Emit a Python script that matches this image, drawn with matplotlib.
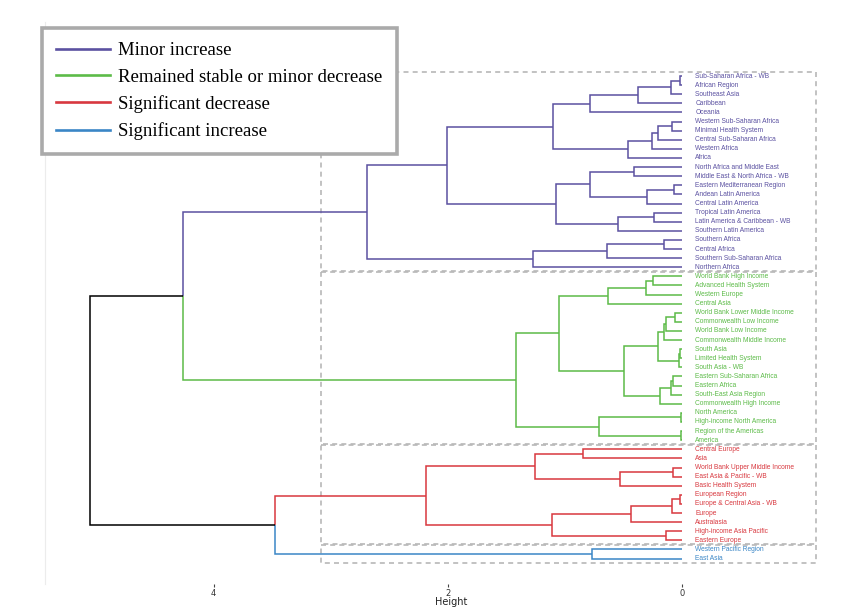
import matplotlib
matplotlib.use("Agg")
import matplotlib.pyplot as plt
from matplotlib.lines import Line2D

# ---------------- data ----------------
leaf_labels = [
    "Sub-Saharan Africa - WB", "African Region", "Southeast Asia", "Caribbean", "Oceania",
    "Western Sub-Saharan Africa", "Minimal Health System", "Central Sub-Saharan Africa",
    "Western Africa", "Africa", "North Africa and Middle East", "Middle East & North Africa - WB",
    "Eastern Mediterranean Region", "Andean Latin America", "Central Latin America",
    "Tropical Latin America", "Latin America & Caribbean - WB", "Southern Latin America",
    "Southern Africa", "Central Africa", "Southern Sub-Saharan Africa", "Northern Africa",
    "World Bank High Income", "Advanced Health System", "Western Europe", "Central Asia",
    "World Bank Lower Middle Income", "Commonwealth Low Income", "World Bank Low Income",
    "Commonwealth Middle Income", "South Asia", "Limited Health System", "South Asia - WB",
    "Eastern Sub-Saharan Africa", "Eastern Africa", "South-East Asia Region",
    "Commonwealth High Income", "North America", "High-income North America",
    "Region of the Americas", "America",
    "Central Europe", "Asia", "World Bank Upper Middle Income", "East Asia & Pacific - WB",
    "Basic Health System", "European Region", "Europe & Central Asia - WB", "Europe",
    "Australasia", "High-income Asia Pacific", "Eastern Europe",
    "Western Pacific Region", "East Asia",
]

cluster_names = ["Minor increase", "Remained stable or minor decrease",
                 "Significant decrease", "Significant increase"]
cluster_colors = ["#5b51a1", "#5cbb48", "#d8383f", "#3a86c6"]
cluster_sizes = [22, 19, 11, 2]

# merges: (left, right, height); ints are leaf indices
purple_A = ((((0, 1, 0.02), 2, 0.10), 3, 0.38), 4, 0.79)
purple_B = ((((5, 6, 0.09), 7, 0.21), 8, 0.26), 9, 0.46)
purple_C = ((10, 11, 0.41), ((12, 13, 0.07), 14, 0.30), 0.79)
purple_D = ((15, 16, 0.24), 17, 0.55)
purple_E = (((18, 19, 0.16), 20, 0.64), 21, 1.27)
purple = (((purple_A, purple_B, 1.10), (purple_C, purple_D, 1.08), 2.01), purple_E, 2.69)

green_A = (((22, 23, 0.25), 24, 0.31), 25, 0.63)
green_B = ((((26, 27, 0.06), 28, 0.14), 29, 0.16), ((30, 31, 0.02), 32, 0.03), 0.21)
green_C = (((33, 34, 0.08), 35, 0.10), 36, 0.19)
green_D = ((37, 38, 0.01), (39, 40, 0.01), 0.71)
green = ((green_A, (green_B, green_C, 0.50), 1.05), green_D, 1.42)

red_A = ((41, 42, 0.85), ((43, 44, 0.08), 45, 0.53), 1.26)
red_B = ((((46, 47, 0.02), 48, 0.09), 49, 0.44), (50, 51, 0.14), 1.11)
red = (red_A, red_B, 2.19)

blue = (52, 53, 0.77)

tree = ((purple, green, 4.26), (red, blue, 3.48), 5.06)

box_left_height = 3.08
x_ticks = [4, 2, 0]

# ---------------- figure ----------------
fig = plt.figure(figsize=(8.52, 6.14), dpi=100)
ax = fig.add_axes([0.0528, 0.0488, 0.9212, 0.9154])

leaf_cluster = []
for k, n in enumerate(cluster_sizes):
    leaf_cluster += [k] * n

LW = 1.1


def layout(node):
    if isinstance(node, int):
        return float(node), 0.0, {leaf_cluster[node]}
    left, right, h = node
    y_l, h_l, c_l = layout(left)
    y_r, h_r, c_r = layout(right)
    y = (y_l + y_r) / 2.0
    for yc, hc, cc in ((y_l, h_l, c_l), (y_r, h_r, c_r)):
        col = cluster_colors[next(iter(cc))] if len(cc) == 1 else "black"
        ax.plot([h, h, hc], [y, yc, yc], color=col, lw=LW,
                solid_joinstyle="miter", solid_capstyle="butt", zorder=3)
    return y, h, c_l | c_r


layout(tree)

# leaf labels
for i, lab in enumerate(leaf_labels):
    ax.text(-0.11, i, lab, fontsize=4.8, color=cluster_colors[leaf_cluster[i]],
            va="center", ha="left", family="Liberation Sans", zorder=4)

# dashed cluster boxes
start = 0
box_right = -1.14
for n in cluster_sizes:
    top = start - 0.45
    bot = start + n - 1 + 0.45
    ax.plot([box_left_height, box_right, box_right, box_left_height, box_left_height],
            [top, top, bot, bot, top], color="#b8b8b8", lw=1.2,
            dashes=(3, 2.5), zorder=2)
    start += n

ax.set_ylim(55.8, -5.94)
ax.set_xlim(5.44, -1.26)
ax.set_yticks([])
ax.set_xticks(x_ticks)
ax.set_xticklabels([str(t) for t in x_ticks])
ax.tick_params(axis="x", length=2.5, width=0.8, color="#444444", labelsize=6,
               labelcolor="#333333", pad=0.8)
for s in ["top", "right", "bottom"]:
    ax.spines[s].set_visible(False)
ax.spines["left"].set_color("#ececec")
ax.spines["left"].set_linewidth(0.8)
ax.set_xlabel("Height", fontsize=7, color="#222222")
ax.xaxis.set_label_coords(0.518, -0.032, transform=ax.transAxes)
ax.xaxis.label.set_va("center")

# legend
handles = [Line2D([0], [0], color=c, lw=1.9) for c in cluster_colors]
leg = fig.legend(handles, cluster_names, loc="upper left",
                 bbox_to_anchor=(42 / 852, 1 - 28 / 614), borderaxespad=0,
                 prop={"family": "Liberation Serif", "size": 13.5},
                 handlelength=2.9, handletextpad=0.43, labelspacing=0.5,
                 borderpad=0.75, fancybox=False, framealpha=1)
leg.get_frame().set_edgecolor("#aaaaaa")
leg.get_frame().set_linewidth(2.6)

fig.savefig("out.png", dpi=100)
